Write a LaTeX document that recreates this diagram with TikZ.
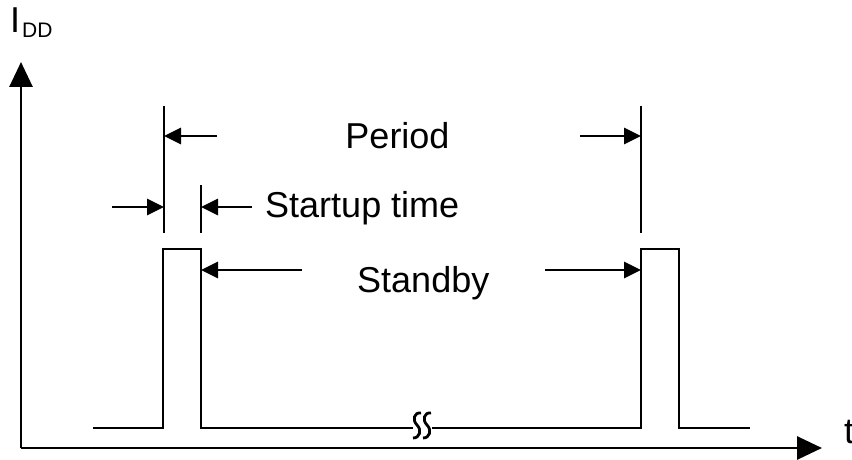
\documentclass[tikz,border=0pt]{standalone}
\usepackage{fontspec}
\setmainfont{Liberation Sans}
\usetikzlibrary{arrows.meta}
\begin{document}
\begin{tikzpicture}[x=1pt,y=-1pt,
  axis/.style={line width=2.8pt,-{Triangle[length=25pt,width=23pt]}},
  sig/.style={line width=2.7pt,line join=miter},
  dimline/.style={line width=2.7pt},
  dimarrow/.style={line width=2.7pt,-{Triangle[length=17pt,width=16pt]}},
  lbl/.style={inner sep=0pt,font=\fontsize{36}{40}\selectfont}]
\useasboundingbox (0,0) rectangle (852,460);
% axes
\coordinate (O) at (21,448);
\coordinate (Ytop) at (21,62);
\coordinate (Xend) at (822,448);
\draw[axis] (O) -- (Ytop);
\draw[axis] (O) -- (Xend);
\node[lbl,anchor=base west] (idd) at (10,33) {I};
\node[inner sep=0pt,anchor=base west,font=\fontsize{21}{24}\selectfont] (dd) at (22,38) {DD};
\node[lbl,anchor=base west] (t) at (844,443) {t};
% signal
\coordinate (s0) at (93,428);
\coordinate (p1a) at (163,428);
\coordinate (p1b) at (163,249);
\coordinate (p1c) at (201,249);
\coordinate (p1d) at (201,428);
\coordinate (brkL) at (413,428);
\coordinate (brkR) at (432,428);
\coordinate (p2a) at (641,428);
\coordinate (p2b) at (641,249);
\coordinate (p2c) at (679,249);
\coordinate (p2d) at (679,428);
\coordinate (s1) at (750,428);
\draw[sig] (s0) -- (p1a) -- (p1b) -- (p1c) -- (p1d) -- (brkL);
\draw[sig] (brkR) -- (p2a) -- (p2b) -- (p2c) -- (p2d) -- (s1);
% break symbol
\draw[line width=2.8pt] (421,413) .. controls (414,412) and (412,420) .. (417,425)
  .. controls (422,430) and (420,438) .. (413,438);
\draw[line width=2.8pt] (431,413) .. controls (424,412) and (422,420) .. (427,425)
  .. controls (432,430) and (430,438) .. (423,438);
% dimension lines
\coordinate (d1t) at (164,106); \coordinate (d1b) at (164,233);
\coordinate (d2t) at (641,106); \coordinate (d2b) at (641,233);
\coordinate (d3t) at (201,185); \coordinate (d3b) at (201,233);
\draw[dimline] (d1t) -- (d1b);
\draw[dimline] (d2t) -- (d2b);
\draw[dimline] (d3t) -- (d3b);
% Period arrows
\coordinate (pa1s) at (217,136); \coordinate (pa1e) at (164,136);
\coordinate (pa2s) at (580,136); \coordinate (pa2e) at (641,136);
\draw[dimarrow] (pa1s) -- (pa1e);
\draw[dimarrow] (pa2s) -- (pa2e);
\node[lbl,anchor=base] (period) at (397.5,148) {Period};
% Startup arrows
\coordinate (sa1s) at (112,207); \coordinate (sa1e) at (164,207);
\coordinate (sa2s) at (252,207); \coordinate (sa2e) at (201,207);
\draw[dimarrow] (sa1s) -- (sa1e);
\draw[dimarrow] (sa2s) -- (sa2e);
\node[lbl,anchor=base west] (startup) at (265,217) {Startup time};
% Standby arrows
\coordinate (ba1s) at (302,270); \coordinate (ba1e) at (201,270);
\coordinate (ba2s) at (545,270); \coordinate (ba2e) at (641,270);
\draw[dimarrow] (ba1s) -- (ba1e);
\draw[dimarrow] (ba2s) -- (ba2e);
\node[lbl,anchor=base west] (standby) at (357,292) {Standby};
\end{tikzpicture}
\end{document}
